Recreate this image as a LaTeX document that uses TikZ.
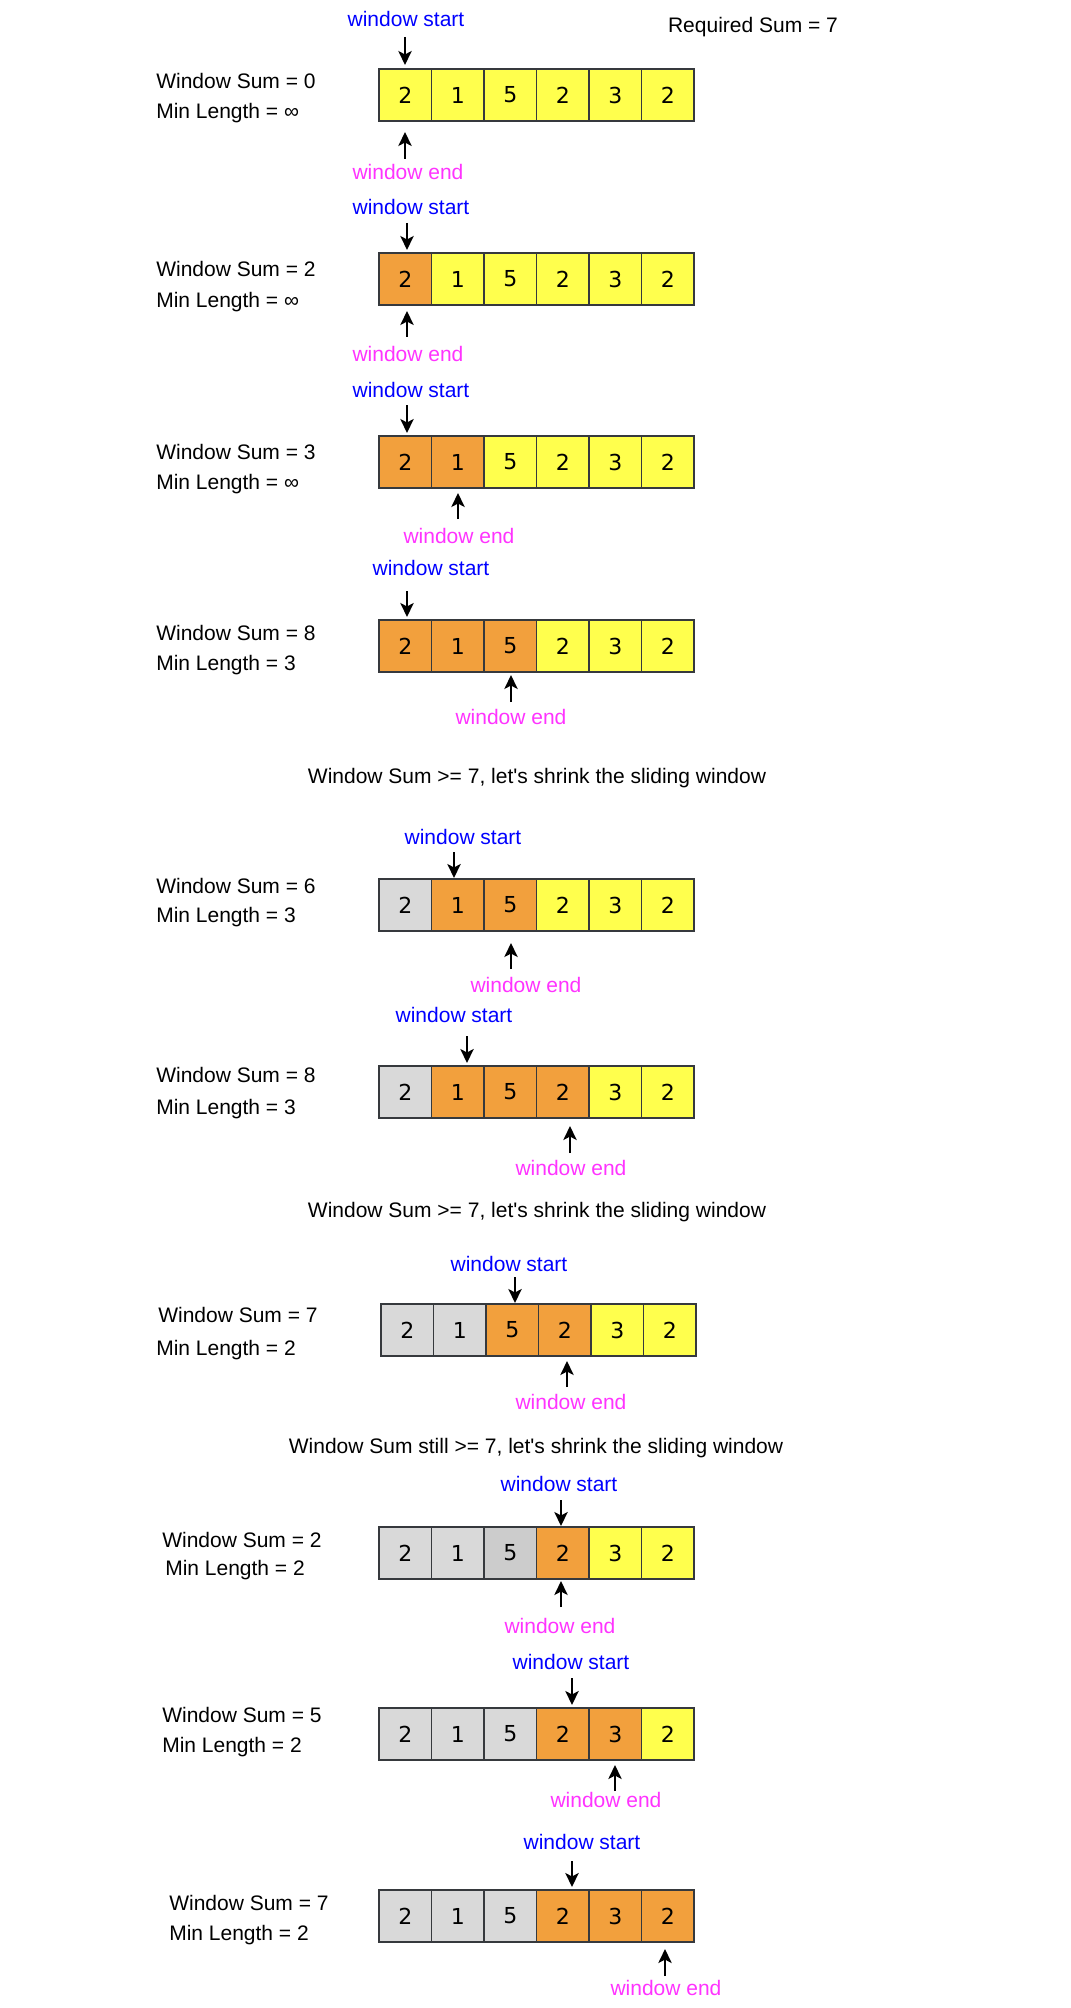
\documentclass[tikz,border=0pt]{standalone}
\usepackage{fontspec}
\setmainfont{Liberation Sans}
\newfontfamily\lsans{Liberation Sans}
\newfontfamily\digitfont{DejaVu Sans}
\usetikzlibrary{arrows.meta}
\definecolor{cY}{HTML}{FFFF4D}
\definecolor{cO}{HTML}{F2A03D}
\definecolor{cG}{HTML}{D9D9D9}
\definecolor{cH}{HTML}{CCCCCC}
\definecolor{bord}{HTML}{36393D}
\definecolor{wsblue}{HTML}{0000FF}
\definecolor{wemag}{HTML}{FF33FF}
\newcommand\cellrow[9]{%
  \node[cell,fill=c#4] (c#1-1) at (#2+26.25,#3+26) {2};
  \node[cell,fill=c#5] (c#1-2) at (#2+78.75,#3+26) {1};
  \node[cell,fill=c#6] (c#1-3) at (#2+131.25,#3+26) {5};
  \node[cell,fill=c#7] (c#1-4) at (#2+183.75,#3+26) {2};
  \node[cell,fill=c#8] (c#1-5) at (#2+236.25,#3+26) {3};
  \node[cell,fill=c#9] (c#1-6) at (#2+288.75,#3+26) {2};
}
\newcommand\ptrdown[4]{% name, x, y1, y2
  \coordinate (#1a) at (#2,#3);
  \coordinate (#1b) at (#2,#4);
  \draw[ptr] (#1a) -- (#1b);
}
\begin{document}
\begin{tikzpicture}[x=0.75pt,y=-0.75pt,
  lbl/.style={font=\lsans\fontsize{15.75pt}{18pt}\selectfont, inner sep=0pt, text height=11.3pt, text depth=0pt},
  startlbl/.style={lbl, text=wsblue},
  endlbl/.style={lbl, text=wemag},
  info/.style={lbl, anchor=west},
  cell/.style={draw=bord, line width=1.1pt, minimum width=39.375pt, minimum height=39pt, inner sep=0pt, outer sep=0pt, font=\digitfont\fontsize{16.5pt}{18pt}\selectfont},
  ptr/.style={line width=1.5pt, -{Stealth[length=10.5pt,width=10pt,inset=2.6pt]}}]
\fill[white] (0,0) rectangle (1070,2008);
\useasboundingbox (0,0) rectangle (1070,2008);

% cell rows
\cellrow{1}{379}{69}{Y}{Y}{Y}{Y}{Y}{Y}
\cellrow{2}{379}{253}{O}{Y}{Y}{Y}{Y}{Y}
\cellrow{3}{379}{436}{O}{O}{Y}{Y}{Y}{Y}
\cellrow{4}{379}{620}{O}{O}{O}{Y}{Y}{Y}
\cellrow{5}{379}{879}{G}{O}{O}{Y}{Y}{Y}
\cellrow{6}{379}{1066}{G}{O}{O}{O}{Y}{Y}
\cellrow{7}{381}{1304}{G}{G}{O}{O}{Y}{Y}
\cellrow{8}{379}{1527}{G}{G}{H}{O}{Y}{Y}
\cellrow{9}{379}{1708}{G}{G}{G}{O}{O}{Y}
\cellrow{10}{379}{1890}{G}{G}{G}{O}{O}{O}

% header and messages
\node[lbl] (req) at (753,25) {Required Sum = 7};
\node[lbl] (msg1) at (537,776) {Window Sum >= 7, let's shrink the sliding window};
\node[lbl] (msg2) at (537,1210) {Window Sum >= 7, let's shrink the sliding window};
\node[lbl] (msg3) at (536,1446) {Window Sum still >= 7, let's shrink the sliding window};

% info labels
\node[info] (ws1) at (156,81) {Window Sum = 0};
\node[info] (ml1) at (156,111) {Min Length = ∞};
\node[info] (ws2) at (156,269) {Window Sum = 2};
\node[info] (ml2) at (156,300) {Min Length = ∞};
\node[info] (ws3) at (156,452) {Window Sum = 3};
\node[info] (ml3) at (156,482) {Min Length = ∞};
\node[info] (ws4) at (156,633) {Window Sum = 8};
\node[info] (ml4) at (156,663) {Min Length = 3};
\node[info] (ws5) at (156,886) {Window Sum = 6};
\node[info] (ml5) at (156,915) {Min Length = 3};
\node[info] (ws6) at (156,1075) {Window Sum = 8};
\node[info] (ml6) at (156,1107) {Min Length = 3};
\node[info] (ws7) at (158,1315) {Window Sum = 7};
\node[info] (ml7) at (156,1348) {Min Length = 2};
\node[info] (ws8) at (162,1540) {Window Sum = 2};
\node[info] (ml8) at (165,1568) {Min Length = 2};
\node[info] (ws9) at (162,1715) {Window Sum = 5};
\node[info] (ml9) at (162,1745) {Min Length = 2};
\node[info] (ws10) at (169,1903) {Window Sum = 7};
\node[info] (ml10) at (169,1933) {Min Length = 2};

% window start labels
\node[startlbl] (st1) at (406,19) {window start};
\node[startlbl] (st2) at (411,207) {window start};
\node[startlbl] (st3) at (411,390) {window start};
\node[startlbl] (st4) at (431,568) {window start};
\node[startlbl] (st5) at (463,837) {window start};
\node[startlbl] (st6) at (454,1015) {window start};
\node[startlbl] (st7) at (509,1264) {window start};
\node[startlbl] (st8) at (559,1484) {window start};
\node[startlbl] (st9) at (571,1662) {window start};
\node[startlbl] (st10) at (582,1842) {window start};

% window end labels
\node[endlbl] (en1) at (408,172) {window end};
\node[endlbl] (en2) at (408,354) {window end};
\node[endlbl] (en3) at (459,536) {window end};
\node[endlbl] (en4) at (511,717) {window end};
\node[endlbl] (en5) at (526,985) {window end};
\node[endlbl] (en6) at (571,1168) {window end};
\node[endlbl] (en7) at (571,1402) {window end};
\node[endlbl] (en8) at (560,1626) {window end};
\node[endlbl] (en9) at (606,1800) {window end};
\node[endlbl] (en10) at (666,1988) {window end};

% start pointers (down)
\ptrdown{sp1}{405}{37}{65}
\ptrdown{sp2}{407}{223}{250}
\ptrdown{sp3}{407}{405}{433}
\ptrdown{sp4}{407}{591}{617}
\ptrdown{sp5}{454}{852}{878}
\ptrdown{sp6}{467}{1036}{1063}
\ptrdown{sp7}{515}{1277}{1303}
\ptrdown{sp8}{561}{1500}{1526}
\ptrdown{sp9}{572}{1678}{1705}
\ptrdown{sp10}{572}{1861}{1887}

% end pointers (up)
\ptrdown{ep1}{405}{159}{132}
\ptrdown{ep2}{407}{337}{311}
\ptrdown{ep3}{458}{519}{493}
\ptrdown{ep4}{511}{702}{675}
\ptrdown{ep5}{511}{969}{943}
\ptrdown{ep6}{570}{1153}{1126}
\ptrdown{ep7}{567}{1387}{1361}
\ptrdown{ep8}{561}{1607}{1581}
\ptrdown{ep9}{615}{1791}{1765}
\ptrdown{ep10}{665}{1976}{1949}
\end{tikzpicture}
\end{document}
